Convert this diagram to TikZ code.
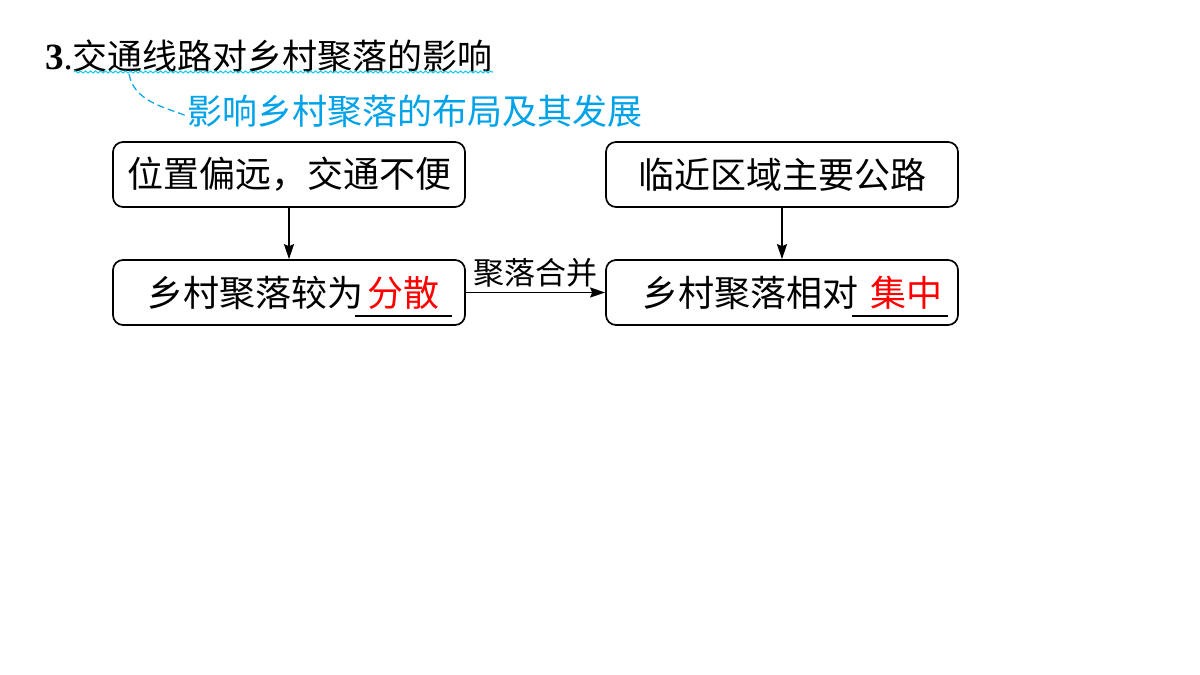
\documentclass[tikz,border=0pt]{standalone}
\usepackage{fontspec}
\setmainfont{Liberation Serif}
\newfontfamily\cjk{Noto Sans CJK SC}
\usetikzlibrary{decorations.pathmorphing,arrows.meta}
\definecolor{cyanT}{RGB}{0,162,232}
\definecolor{wavyT}{RGB}{30,205,235}
\definecolor{redT}{RGB}{255,0,0}
\begin{document}
\begin{tikzpicture}[x=1pt,y=-1pt,
  box/.style={draw,rounded corners=10pt,line width=1.7pt,minimum width=352pt,minimum height=65pt,inner sep=0pt},
  txt/.style={font=\cjk\fontsize{36}{40}\selectfont,inner sep=0pt},
  blank/.style={txt,text=redT,minimum height=46pt},
  arr/.style={-{Stealth[length=15pt,width=10pt,inset=2pt]},line width=1.7pt}]
\useasboundingbox[fill=white] (0,0) rectangle (1200,675);
% title
\node[anchor=west,inner sep=0pt,font=\fontsize{37}{40}\selectfont] (title) at (45,56)
  {\textbf{3}.{\cjk\fontsize{35}{40}\selectfont 交通线路对乡村聚落的影响}};
\draw[wavyT,line width=1.1pt,decorate,decoration={snake,amplitude=1pt,segment length=5pt}]
  (74,72) -- (493,72);
\coordinate (w) at (129,74);
\node[anchor=west,inner sep=0pt,text=cyanT,font=\cjk\fontsize{35}{40}\selectfont] (sub) at (187,111)
  {影响乡村聚落的布局及其发展};
\draw[cyanT,dash pattern=on 7pt off 4pt,line width=1.2pt] (w) .. controls (134,100) and (160,106) .. ([yshift=-5pt]sub.west);
% boxes
\node[box] (a) at (289,174.5) {};
\node[txt] (at) at (a.center) {位置偏远，交通不便};
\node[box] (b) at (782,174.5) {};
\node[txt] (bt) at (b.center) {临近区域主要公路};
\node[box] (c) at (289,292.5) {};
\node[txt,anchor=west] (c1) at (147,292.5) {乡村聚落较为};
\node[blank,minimum width=97pt] (c2) at (403.5,292.5) {分散};
\draw[line width=1.6pt] (c2.south west) -- (c2.south east);
\node[box] (d) at (782,292.5) {};
\node[txt,anchor=west] (d1) at (642,292.5) {乡村聚落相对};
\node[blank,minimum width=96pt] (d2) at (900,292.5) {\hspace*{12pt}集中};
\draw[line width=1.6pt] (d2.south west) -- (d2.south east);
% connectors
\draw[arr] (a) -- (c);
\draw[arr] (b) -- (d);
\draw[arr] (c) -- node[above,inner sep=4pt,font=\cjk\fontsize{31}{34}\selectfont] (lab) {聚落合并} (d);
\end{tikzpicture}
\end{document}
